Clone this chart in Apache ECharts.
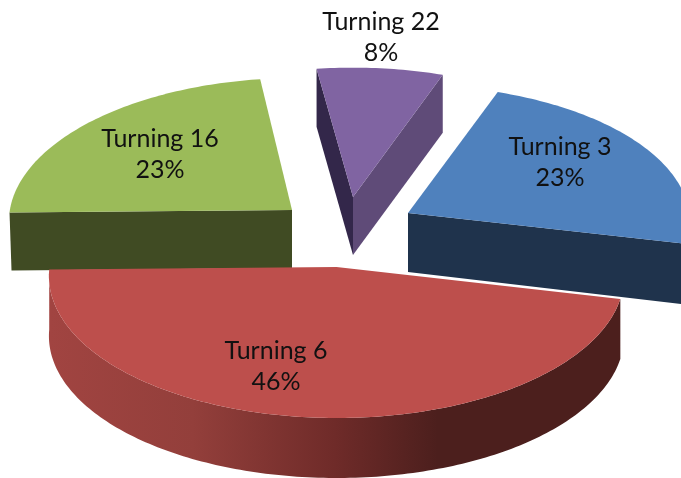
<!DOCTYPE html>
<html>
<head>
<meta charset="utf-8">
<style>html,body{margin:0;padding:0;background:#fff}#c{width:681px;height:478px}</style>
<script src="https://cdn.jsdelivr.net/npm/echarts@6/dist/echarts.min.js"></script>
</head>
<body>
<div id="c"></div>
<script>
// Data
var categories = ['Turning 3', 'Turning 6', 'Turning 16', 'Turning 22'];
var counts = [3, 6, 3, 1];

// Styles & layout for each slice (same order as the data)
var topColors = ['#4f81bd', '#bd4f4c', '#9bbb59', '#8064a2'];
var anchors = [[408, 213], [336.5, 267], [292, 210], [353, 197]];
var scalesX = [0.98, 1.0, 0.983, 0.98];
var scalesY = [0.97, 1.007, 1, 0.98];
var leans = [0, 0, 80, 0];
var depths = [59, 60, 58, 58];
var layers = [3, 4, 2, 1];
var labelPos = [[560, 162], [276, 366], [160, 154], [381, 37]];

var RX = 287, A = 140.4, K = 0.0638, START = 12.85;
var total = counts.reduce(function (a, b) { return a + b; }, 0);

function project(i, deg) {
  var t = deg * Math.PI / 180;
  var u = Math.cos(t), v = Math.sin(t);
  var f = 1 / (1 - K * v);
  return [
    anchors[i][0] + RX * scalesX[i] * u * f + leans[i] * (1 - f),
    anchors[i][1] + A * scalesY[i] * v * f
  ];
}
function arc(i, a0, a1, dy) {
  var pts = [], n = Math.ceil(Math.abs(a1 - a0));
  for (var k = 0; k <= n; k++) {
    var p = project(i, a0 + (a1 - a0) * k / n);
    pts.push([p[0], p[1] + (dy || 0)]);
  }
  return pts;
}
function poly(points, fill, z2) {
  return { type: 'polygon', shape: { points: points }, style: { fill: fill }, z2: z2 };
}

// Slice angles: Turning 6 starts at START, Turning 3 ends there
function sliceAngles(i) {
  var sweep = counts.map(function (c) { return c / total * 360; });
  if (i === 0) return [START - sweep[0], START];
  var a = START;
  for (var k = 1; k < i; k++) a += sweep[k];
  return [a, a + sweep[i]];
}

function renderItem(params, api) {
  var i = params.dataIndex, value = api.value(0);
  var ang = sliceAngles(i), a0 = ang[0], a1 = ang[1];
  var c = anchors[i], d = depths[i], z = layers[i] * 10;
  var cb = [c[0], c[1] + d];
  var children = [];
  var top = [c].concat(arc(i, a0, a1, 0));
  var pA = project(i, a0), pB = project(i, a1);

  if (i === 0) {
    children.push(poly([c, pB, [pB[0], pB[1] + d + 2], cb], '#1f334c', z));
  } else if (i === 1) {
    var fr = arc(i, a0, a1, 0), bk = arc(i, a1, a0, d);
    children.push(poly(fr.concat(bk), {
      type: 'linear', x: 50, y: 0, x2: 620, y2: 0, global: true,
      colorStops: [
        { offset: 0, color: '#a14441' },
        { offset: 0.25, color: '#933f3b' },
        { offset: 0.5, color: '#6f2b29' },
        { offset: 0.68, color: '#4c1f1d' },
        { offset: 1, color: '#4c1f1d' }
      ]
    }, z));
  } else if (i === 2) {
    children.push(poly([pA, c, cb, [pA[0] + 2, pA[1] + d]], '#404b23', z));
  } else {
    children.push(poly([c, pA, [pA[0], pA[1] + d], cb], '#33274a', z));
    children.push(poly([c, pB, [pB[0], pB[1] + d], cb], '#5f4b78', z));
  }
  children.push(poly(top, topColors[i], z + 1));
  children.push({
    type: 'text', z2: 100,
    style: {
      x: labelPos[i][0], y: labelPos[i][1],
      text: categories[i] + '\n' + Math.round(value / total * 100) + '%',
      fill: '#111', font: '25px Lato, sans-serif', lineHeight: 31,
      align: 'center', verticalAlign: 'middle'
    }
  });
  return { type: 'group', children: children };
}

var chart = echarts.init(document.getElementById('c'), null, { renderer: 'canvas' });
chart.setOption({
  backgroundColor: '#fff',
  animation: false,
  series: [{
    type: 'custom',
    coordinateSystem: 'none',
    renderItem: renderItem,
    encode: { value: 0 },
    data: counts.map(function (c, i) { return { name: categories[i], value: [c] }; })
  }]
});
</script>
</body>
</html>
